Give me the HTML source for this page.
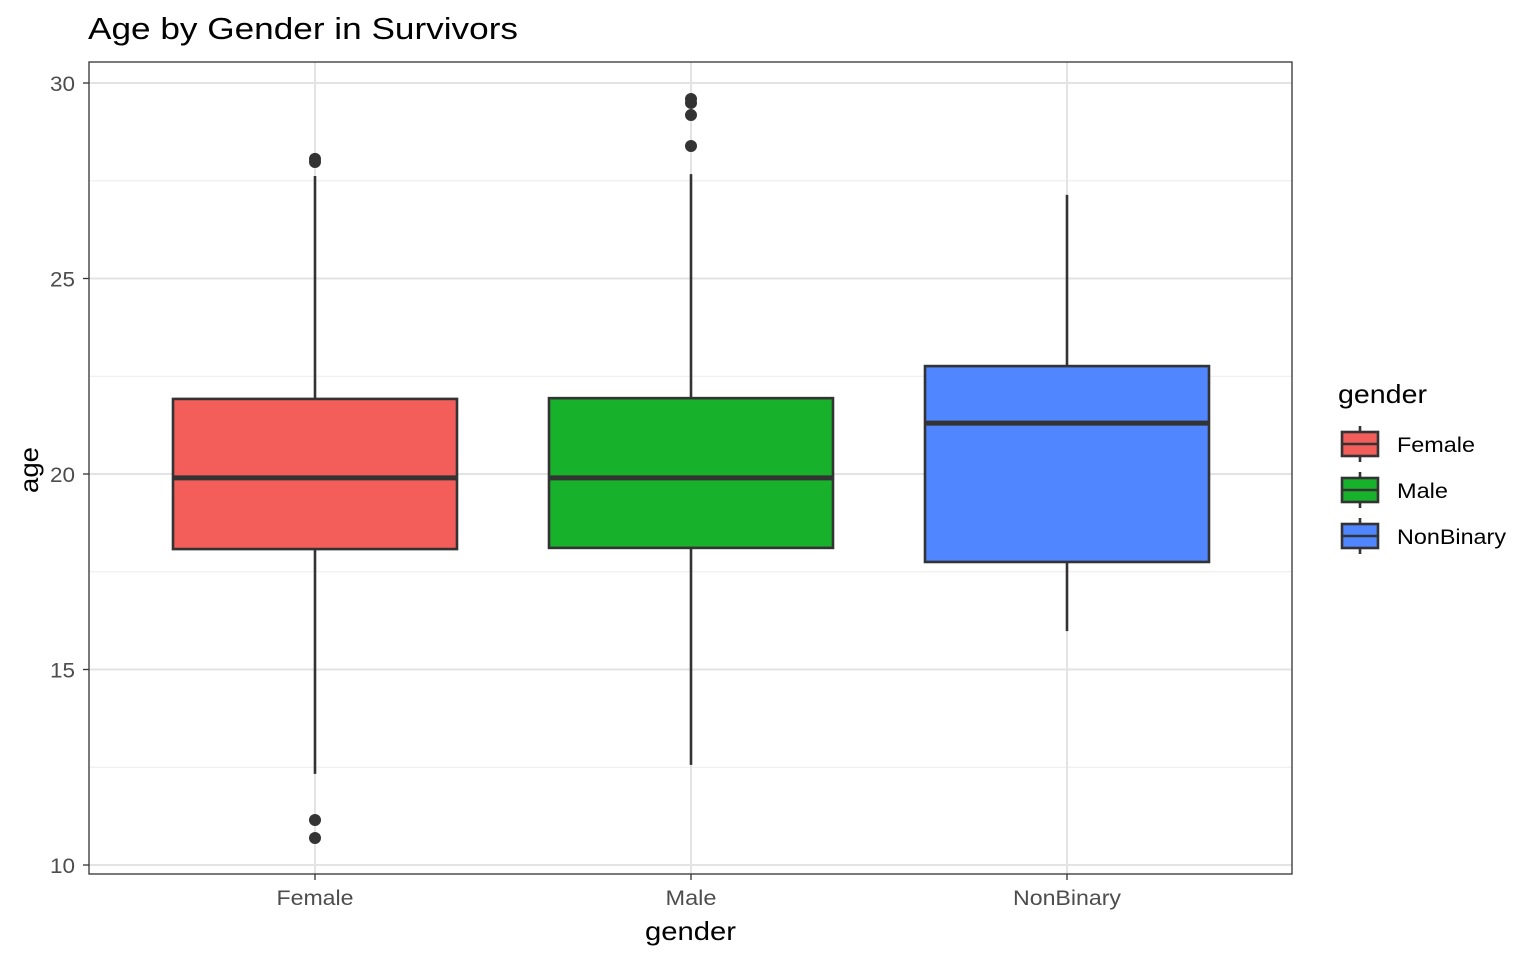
<!DOCTYPE html>
<html><head><meta charset="utf-8"><style>
body{margin:0;background:#fff;}
svg text{font-family:"Liberation Sans",Arial,sans-serif;}
</style></head><body>
<svg id="chart" width="1536" height="960" xmlns="http://www.w3.org/2000/svg">
<rect width="1536" height="960" fill="#fff"/>
<text x="88" y="39" font-size="31" textLength="430" lengthAdjust="spacingAndGlyphs" fill="#000">Age by Gender in Survivors</text>
<g id="grid"></g>
<g id="boxes"></g>
<rect x="89" y="62" width="1203" height="812" fill="none" stroke="#333" stroke-width="1.3"/>
<g id="axes"></g>
<text x="645" y="940" font-size="26" textLength="91" lengthAdjust="spacingAndGlyphs">gender</text>
<text transform="translate(38,493) rotate(-90)" font-size="26" textLength="46" lengthAdjust="spacingAndGlyphs">age</text>
<g id="legend"></g>
</svg>
<script>
const categories = ["Female","Male","NonBinary"];
const colors = ["#F35E5A","#17B12B","#5086FF"];
const q1 = [18.08,18.11,17.75];
const median = [19.90,19.90,21.30];
const q3 = [21.92,21.94,22.76];
const whiskerLow = [12.33,12.56,15.98];
const whiskerHigh = [27.62,27.67,27.14];
const outliers = [[28.06,27.98,11.15,10.69],[29.59,29.49,29.18,28.39],[]];
const yTicks = [10,15,20,25,30];
const yMinor = [12.5,17.5,22.5,27.5];

const NS="http://www.w3.org/2000/svg";
function mk(tag,attrs,parent){const e=document.createElementNS(NS,tag);for(const k in attrs)e.setAttribute(k,attrs[k]);parent.appendChild(e);return e;}
const yScale=v=>865-(v-10)*39.1;
const xScale=i=>315+i*376;
const bw=284;
const labelW={Female:77,Male:51,NonBinary:108};
const legendW={Female:78,Male:51,NonBinary:109};
const grid=document.getElementById('grid'),boxes=document.getElementById('boxes'),axes=document.getElementById('axes'),legend=document.getElementById('legend');

yMinor.forEach(v=>{const l=mk('line',{x1:89,x2:1292,y1:yScale(v),y2:yScale(v),stroke:'#ebebeb','stroke-width':1},grid);

});
yTicks.forEach(v=>{const y=yScale(v);
const l=mk('line',{x1:89,x2:1292,y1:y,y2:y,stroke:'#e3e3e3','stroke-width':2},grid);


mk('line',{x1:83,x2:89,y1:y,y2:y,stroke:'#333','stroke-width':1.3},axes);
const t=mk('text',{x:50,y:y+8,'font-size':21,textLength:25,lengthAdjust:'spacingAndGlyphs',fill:'#4d4d4d'},axes);t.textContent=v;

});
categories.forEach((c,i)=>{const x=xScale(i);
const l=mk('line',{x1:x,x2:x,y1:62,y2:874,stroke:'#e3e3e3','stroke-width':2},grid);


mk('line',{x1:x,x2:x,y1:874,y2:880,stroke:'#333','stroke-width':1.3},axes);
const t=mk('text',{x:x-labelW[c]/2,y:905,'font-size':21,textLength:labelW[c],lengthAdjust:'spacingAndGlyphs',fill:'#4d4d4d'},axes);t.textContent=c;


const g=mk('g',{},boxes);


mk('line',{x1:x,x2:x,y1:yScale(whiskerHigh[i]),y2:yScale(q3[i]),stroke:'#333','stroke-width':2.6},g);
mk('line',{x1:x,x2:x,y1:yScale(q1[i]),y2:yScale(whiskerLow[i]),stroke:'#333','stroke-width':2.6},g);
mk('rect',{x:x-bw/2,y:yScale(q3[i]),width:bw,height:yScale(q1[i])-yScale(q3[i]),fill:colors[i],stroke:'#333','stroke-width':2.6},g);
mk('line',{x1:x-bw/2,x2:x+bw/2,y1:yScale(median[i]),y2:yScale(median[i]),stroke:'#333','stroke-width':5},g);
outliers[i].forEach(o=>{const p=mk('circle',{cx:x,cy:yScale(o),r:6,fill:'#333'},g);

});
});
const lt=mk('text',{x:1338,y:403,'font-size':26,textLength:89,lengthAdjust:'spacingAndGlyphs'},legend);lt.textContent='gender';


categories.forEach((c,i)=>{const y=432+i*46;
const g=mk('g',{},legend);


mk('line',{x1:1360,x2:1360,y1:y-6,y2:y+30,stroke:'#333','stroke-width':2.6},g);
mk('rect',{x:1342,y:y,width:36,height:24,fill:colors[i],stroke:'#333','stroke-width':2.6},g);
mk('line',{x1:1342,x2:1378,y1:y+12,y2:y+12,stroke:'#333','stroke-width':2.6},g);
const t=mk('text',{x:1397,y:y+20,'font-size':21,textLength:legendW[c],lengthAdjust:'spacingAndGlyphs'},g);t.textContent=c;});
</script>
</body></html>
